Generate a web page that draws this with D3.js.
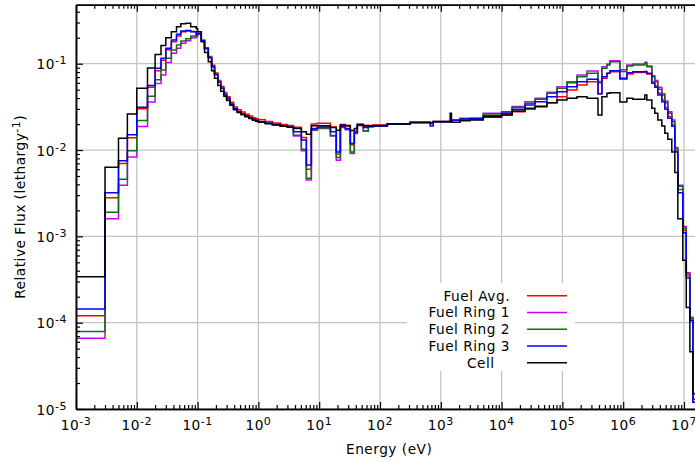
<!DOCTYPE html>
<html><head><meta charset="utf-8">
<script src="https://cdn.jsdelivr.net/npm/d3@7"></script>
<style>
body{margin:0;background:#fff}
svg{display:block}
text{font-family:"DejaVu Sans",Verdana,sans-serif;fill:#000;letter-spacing:0.5px}
</style>
</head><body>
<svg id="c" width="695" height="462"></svg>
<script>
// ---- data (energy group edges in eV, relative flux per lethargy) ----
const energyEdges = [1e-3,3e-3,5e-3,7e-3,1e-2,1.5e-2,2e-2,2.5e-2,3e-2,3.7e-2,
  4.5e-2,5.3e-2,6.4e-2,7.7e-2,9.5e-2,0.1,0.115,0.13,0.15,0.17,
  0.19,0.215,0.24,0.27,0.3,0.34,0.39,0.45,0.52,0.6,
  0.7,0.8,0.9,1.0,1.3,1.7,2.3,3.0,3.77,5.09,
  6.15,7.43,9.33,15.3,19.1,22.3,26.9,32.5,37.8,42.4,
  53.2,64.3,77.6,132,315,670,750,1425,1500,2080,
  3036,5000,1e4,1.49e4,2.43e4,3.55e4,5.58e4,8.15e4,1.19e5,1.74e5,
  2.54e5,3.85e5,4.47e5,5.4e5,6.05e5,8.83e5,1.15e6,1.44e6,2.27e6,2.45e6,
  2.96e6,3.31e6,3.71e6,4.32e6,4.84e6,5.42e6,6.3e6,7.07e6,7.91e6,9.55e6,
  1.09e7,1.25e7,1.4e7,1.56e7,1.96e7];

const fuelAvg = [1.2e-4,2.8e-3,7.0e-3,1.39e-2,3.0e-2,5.35e-2,0.083,0.11,0.145,0.18,
  0.21,0.235,0.24,0.236,0.222,0.226,0.188,0.153,0.121,0.096,
  0.078,0.064,0.0545,0.0465,0.0415,0.0357,0.0315,0.0292,0.0275,0.026,
  0.0248,0.0237,0.0231,0.0224,0.0214,0.0206,0.0198,0.0192,0.0183,0.014,
  0.006,0.02,0.0204,0.0185,0.009,0.0198,0.019,0.0115,0.0165,0.02,
  0.0188,0.0192,0.0195,0.0201,0.021,0.0203,0.0214,0.0216,0.0222,0.0229,
  0.0229,0.024,0.0254,0.0277,0.0296,0.0324,0.0353,0.0414,0.0496,0.0566,
  0.0619,0.045,0.0677,0.0774,0.0808,0.066,0.076,0.079,0.08,0.076,
  0.0619,0.055,0.0454,0.038,0.031,0.0244,0.0195,0.0098,0.0035,1.18e-3,
  3.5e-4,1.1e-4,1.2e-5,8e-6];

const fuelRing1 = [6.6e-5,1.6e-3,3.9e-3,8.3e-3,1.87e-2,3.6e-2,0.059,0.074,0.103,0.132,
  0.151,0.172,0.185,0.2,0.205,0.222,0.185,0.15,0.118,0.093,
  0.075,0.061,0.052,0.044,0.0395,0.034,0.030,0.0278,0.0262,0.0248,
  0.0236,0.0226,0.022,0.0213,0.0204,0.0197,0.019,0.0183,0.0145,0.0098,
  0.0045,0.017,0.0178,0.0145,0.0076,0.0182,0.0172,0.0091,0.0155,0.0192,
  0.0166,0.0185,0.019,0.02,0.0208,0.0205,0.0214,0.0216,0.0222,0.0233,
  0.0233,0.0266,0.0277,0.032,0.0363,0.0397,0.0466,0.0541,0.0619,0.074,
  0.0823,0.062,0.0923,0.0992,0.108,0.085,0.0966,0.0992,0.104,0.094,
  0.0726,0.064,0.0533,0.045,0.037,0.0277,0.0223,0.0107,0.0039,1.3e-3,
  3.8e-4,1.15e-4,1.3e-5,8e-6];

const fuelRing2 = [7.9e-5,1.9e-3,4.6e-3,9.8e-3,2.2e-2,4.2e-2,0.065,0.0845,0.1155,0.144,
  0.165,0.183,0.195,0.21,0.215,0.222,0.185,0.15,0.118,0.093,
  0.075,0.061,0.052,0.044,0.0395,0.034,0.030,0.0278,0.0262,0.0248,
  0.0236,0.0226,0.022,0.0213,0.0204,0.0197,0.019,0.0183,0.0148,0.0102,
  0.0047,0.0172,0.018,0.0147,0.0082,0.0184,0.0175,0.0095,0.0157,0.0194,
  0.0166,0.0187,0.019,0.02,0.0208,0.0205,0.0214,0.0216,0.0222,0.0231,
  0.0233,0.0262,0.0277,0.0313,0.0348,0.0387,0.0454,0.0519,0.0602,0.0707,
  0.0774,0.06,0.0885,0.0966,0.105,0.081,0.094,0.0966,0.101,0.0923,
  0.0707,0.0619,0.0505,0.0434,0.0353,0.0266,0.0213,0.0104,0.0038,1.25e-3,
  3.7e-4,1.15e-4,1.3e-5,8e-6];

const fuelRing3 = [1.44e-4,3.2e-3,7.5e-3,1.5e-2,3.13e-2,5.6e-2,0.0885,0.1155,0.151,0.188,
  0.219,0.239,0.242,0.235,0.218,0.223,0.185,0.15,0.118,0.093,
  0.075,0.061,0.052,0.044,0.0395,0.034,0.030,0.0278,0.0262,0.0248,
  0.0236,0.0226,0.022,0.0213,0.0204,0.0197,0.019,0.0183,0.0163,0.0131,
  0.0067,0.0178,0.0185,0.0163,0.0095,0.0188,0.0178,0.0119,0.0161,0.0195,
  0.0182,0.0189,0.019,0.02,0.0208,0.019,0.0213,0.0215,0.0222,0.0229,
  0.0231,0.0249,0.0266,0.0296,0.0332,0.0363,0.0414,0.0474,0.0541,0.0619,
  0.066,0.045,0.0707,0.0774,0.083,0.068,0.0787,0.0808,0.081,0.0774,
  0.0593,0.0533,0.0434,0.0363,0.0296,0.0234,0.0188,0.0095,0.0032,1.1e-3,
  3.3e-4,1.05e-4,1.2e-5,8e-6];

const cell = [3.4e-4,6.3e-3,1.37e-2,2.62e-2,5.2e-2,8.9e-2,0.128,0.162,0.2,0.235,
  0.268,0.29,0.294,0.268,0.255,0.235,0.18,0.135,0.105,0.083,
  0.068,0.056,0.048,0.042,0.0375,0.033,0.0293,0.0272,0.0257,0.0243,
  0.0232,0.0222,0.0216,0.021,0.0201,0.0195,0.0188,0.0184,0.0178,0.0163,
  0.0152,0.0191,0.0191,0.0182,0.017,0.0195,0.0192,0.0168,0.0178,0.0196,
  0.0192,0.019,0.0193,0.0200,0.0208,0.0206,0.0213,0.0266,0.021,0.0218,
  0.0223,0.0243,0.0254,0.0283,0.0304,0.0318,0.0353,0.038,0.0397,0.0414,
  0.0397,0.0254,0.0414,0.0454,0.0461,0.036,0.0397,0.0387,0.0434,0.038,
  0.0305,0.0266,0.0223,0.019,0.0156,0.0133,0.0095,0.0055,0.0016,5.3e-4,
  1.5e-4,4.6e-5,1.5e-5,8e-6];

const seriesNames  = ["Fuel Avg.","Fuel Ring 1","Fuel Ring 2","Fuel Ring 3","Cell"];
const seriesColors = ["#ff0000","#cc00ff","#107010","#0000ff","#000000"];
const seriesValues = [fuelAvg, fuelRing1, fuelRing2, fuelRing3, cell];

const xTickExponents = [-3,-2,-1,0,1,2,3,4,5,6,7];
const yTickExponents = [-5,-4,-3,-2,-1];
const xTitle = "Energy (eV)";
const yTitle = "Relative Flux (lethargy";

// ---- layout ----
const L = 76, R = 702.3, T = 4.7, B = 409;
const legendTextRight = [510, 510, 510, 510, 494.5];
const svg = d3.select("#c");
const x = d3.scaleLog().domain([1e-3, 2e7]).range([L, R]);
const y = d3.scaleLog().domain([1e-5, 0.4825]).range([B, T]);

const xMajor = xTickExponents.map(e => Math.pow(10, e));
const yMajor = yTickExponents.map(e => Math.pow(10, e));
const xMinor = [], yMinor = [];
for (let e = -3; e <= 7; e++) for (let m = 2; m <= 9; m++) { const v = m * Math.pow(10, e); if (v <= 2e7) xMinor.push(v); }
for (let e = -5; e <= -1; e++) for (let m = 2; m <= 9; m++) { const v = m * Math.pow(10, e); if (v <= 0.4825) yMinor.push(v); }

// grid
const grid = svg.append("g").attr("stroke", "#c4c4c4").attr("stroke-width", 1.3);
xMajor.forEach(v => grid.append("line").attr("x1", x(v)).attr("x2", x(v)).attr("y1", T).attr("y2", B));
yMajor.forEach(v => grid.append("line").attr("x1", L).attr("x2", R).attr("y1", y(v)).attr("y2", y(v)));

// data
svg.append("clipPath").attr("id", "clip").append("rect")
  .attr("x", L).attr("y", T).attr("width", R - L).attr("height", B - T);
const line = d3.line().x(d => x(d[0])).y(d => y(Math.max(d[1], 1e-7))).curve(d3.curveStepAfter);
const dataG = svg.append("g").attr("clip-path", "url(#clip)");
seriesValues.forEach((vals, k) => {
  const pts = energyEdges.map((e, i) => [e, vals[Math.min(i, vals.length - 1)]]);
  dataG.append("path").attr("d", line(pts)).attr("fill", "none")
    .attr("stroke", seriesColors[k]).attr("stroke-width", 1.5).attr("stroke-linejoin", "miter");
});

// axes (ticks inward)
function styleAxis(g) {
  g.selectAll("path.domain").attr("stroke", "#000").attr("stroke-width", 1.5);
  g.selectAll(".tick line").attr("stroke", "#000").attr("stroke-width", 1.2);
  g.selectAll(".tick text").remove();
}
const ax = [
  [d3.axisBottom(x).tickValues(xMajor).tickSize(-7), `translate(0,${B})`],
  [d3.axisBottom(x).tickValues(xMinor).tickSize(-4), `translate(0,${B})`],
  [d3.axisTop(x).tickValues(xMajor).tickSize(-7), `translate(0,${T})`],
  [d3.axisTop(x).tickValues(xMinor).tickSize(-4), `translate(0,${T})`],
  [d3.axisLeft(y).tickValues(yMajor).tickSize(-7), `translate(${L},0)`],
  [d3.axisLeft(y).tickValues(yMinor).tickSize(-4), `translate(${L},0)`]
];
ax.forEach(([a, tr]) => { const g = svg.append("g").attr("transform", tr).call(a.tickSizeOuter(0).tickFormat("")); styleAxis(g); });

// tick labels with superscripts
xTickExponents.forEach(e => {
  const t = svg.append("text").attr("x", x(Math.pow(10, e))).attr("y", 430)
    .attr("text-anchor", "middle").attr("font-size", 13.7);
  t.append("tspan").text("10");
  t.append("tspan").attr("dy", -5).attr("font-size", 11).text(String(e));
});
yTickExponents.forEach(e => {
  const t = svg.append("text").attr("x", 67).attr("y", y(Math.pow(10, e)) + 5.5)
    .attr("text-anchor", "end").attr("font-size", 13.7);
  t.append("tspan").text("10");
  t.append("tspan").attr("dy", -5).attr("font-size", 11).text(String(e));
});

// axis titles
svg.append("text").attr("x", (L + R) / 2).attr("y", 454).attr("text-anchor", "middle")
  .attr("font-size", 13.7).text(xTitle);
const yt = svg.append("text").attr("transform", `translate(25,${(T + B) / 2}) rotate(-90)`)
  .attr("text-anchor", "middle").attr("font-size", 13.7);
yt.append("tspan").text(yTitle);
yt.append("tspan").attr("dy", -5).attr("font-size", 11).text("-1");
yt.append("tspan").attr("dy", 5).text(")");

// legend
const lg = svg.append("g");
lg.append("rect").attr("x", 407).attr("y", 283).attr("width", 168).attr("height", 88).attr("fill", "#fff");
seriesNames.forEach((n, k) => {
  const yy = 295.7 + k * 16.75;
  lg.append("text").attr("x", legendTextRight[k]).attr("y", yy + 5).attr("text-anchor", "end")
    .attr("font-size", 13.7).text(n);
  lg.append("line").attr("x1", 527).attr("x2", 567).attr("y1", yy).attr("y2", yy)
    .attr("stroke", seriesColors[k]).attr("stroke-width", 1.5);
});
</script>
</body></html>
